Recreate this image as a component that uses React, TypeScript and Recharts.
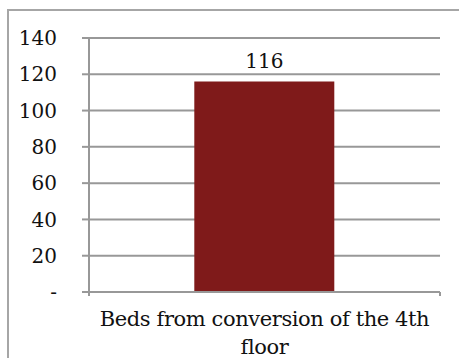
import { BarChart, Bar, XAxis, YAxis, CartesianGrid, LabelList } from "recharts";

// Beds gained from converting the 4th floor
const categories = ["Beds from conversion of the 4th floor"];
const beds = [116];
const yTicks = [0, 20, 40, 60, 80, 100, 120, 140];

const data = categories.map((name, i) => ({ name, beds: beds[i] }));

const FONT = "'DejaVu Serif', serif";
const GRID = "#989898";
const EDGE_TICK = 4;

// category label wraps its last word onto a second line; short tick marks
// are drawn at both edges of the band instead of at its centre
function CategoryTick(props: any) {
  const { x, y, payload, width } = props;
  const half = payload.offset || width / 2;
  const words = String(payload.value).split(" ");
  const lines = [words.slice(0, -1).join(" "), words[words.length - 1]];
  return (
    <g>
      {[x - half, x + half].map((ex, i) => (
        <line key={i} x1={ex} x2={ex} y1={y - EDGE_TICK} y2={y} stroke={GRID} strokeWidth={2} />
      ))}
      <text x={x} y={y + 30} textAnchor="middle" fontFamily={FONT} fontSize={21} letterSpacing={-0.4} fill="#111">
        {lines.map((line, i) => (
          <tspan key={i} x={x} dy={i === 0 ? 0 : 28}>
            {line}
          </tspan>
        ))}
      </text>
    </g>
  );
}

export default function App() {
  return (
    <div style={{ position: "absolute", left: 0, top: 0, width: 459, height: 358, overflow: "hidden", background: "#fff" }}>
      <div
        style={{
          position: "absolute",
          left: 7,
          top: 9,
          width: 480,
          height: 400,
          border: "2px solid #a6a6a6",
          boxSizing: "border-box",
        }}
      />
      <BarChart
        width={459}
        height={358}
        data={data}
        margin={{ top: 38, right: 19, bottom: 0, left: 0 }}
        barCategoryGap="30%"
        style={{ position: "absolute", left: 0, top: 0 }}
      >
        <CartesianGrid vertical={false} stroke={GRID} strokeWidth={2} />
        <YAxis
          width={89}
          domain={[0, 140]}
          ticks={yTicks}
          interval={0}
          tickFormatter={(v: number) => (v === 0 ? "-" : String(v))}
          axisLine={{ stroke: GRID, strokeWidth: 2 }}
          tickLine={{ stroke: GRID, strokeWidth: 2 }}
          tickSize={7}
          tickMargin={25}
          tick={{ fontFamily: FONT, fontSize: 20, fill: "#111" }}
        />
        <XAxis
          dataKey="name"
          height={66}
          interval={0}
          axisLine={{ stroke: GRID, strokeWidth: 2 }}
          tickLine={false}
          tickSize={EDGE_TICK}
          tickMargin={0}
          tick={<CategoryTick />}
        />
        <Bar dataKey="beds" fill="#7F1A1A" isAnimationActive={false}>
          <LabelList dataKey="beds" position="top" offset={14} style={{ fontFamily: FONT, fontSize: 20, fill: "#111" }} />
        </Bar>
      </BarChart>
    </div>
  );
}
